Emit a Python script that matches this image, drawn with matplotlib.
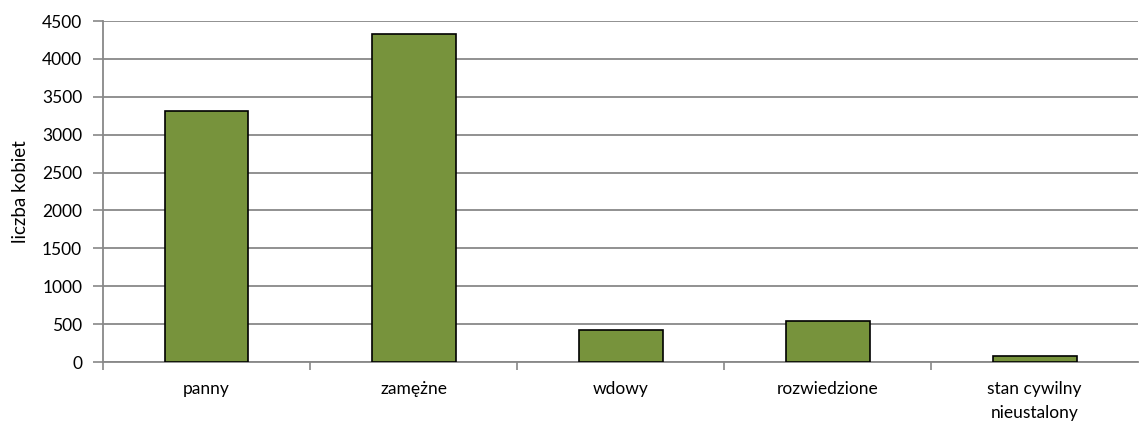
import matplotlib.pyplot as plt
from matplotlib.ticker import MultipleLocator

plt.rcParams['font.family'] = ['Lato', 'DejaVu Sans']

categories = ['panny', 'zamężne', 'wdowy', 'rozwiedzione', 'stan cywilny\nnieustalony']
values = [3315, 4325, 422, 545, 78]
y_label = 'liczba kobiet'

grid_color = '#888888'
bar_color = '#77933C'

fig = plt.figure(figsize=(11.4, 4.23), dpi=100)
ax = fig.add_axes([0.0904, 0.1442, 0.908, 0.806])

x = list(range(len(categories)))
ax.bar(x, values, width=0.405, color=bar_color, edgecolor='black', linewidth=1.2, zorder=3)

ax.set_xlim(-0.5, len(categories) - 0.5)
ax.set_ylim(0, 4500)
ax.yaxis.set_major_locator(MultipleLocator(500))
ax.yaxis.grid(True, color=grid_color, linewidth=1.3, zorder=0)

# category labels centred, ticks between categories
ax.set_xticks(x)
ax.set_xticklabels(categories, fontsize=12.5, linespacing=1.55)
ax.tick_params(axis='x', length=0, pad=14)
ax.set_xticks([i - 0.5 for i in range(len(categories))], minor=True)
ax.tick_params(axis='x', which='minor', length=6, width=1.2, color=grid_color)
ax.tick_params(axis='y', length=7, width=1.2, color=grid_color, labelsize=12.5, pad=8)

for side in ['top', 'right']:
    ax.spines[side].set_visible(False)
for side in ['left', 'bottom']:
    ax.spines[side].set_color(grid_color)
    ax.spines[side].set_linewidth(1.3)

ax.set_ylabel(y_label, fontsize=13.5, labelpad=9)

plt.savefig('out.png', dpi=100)
